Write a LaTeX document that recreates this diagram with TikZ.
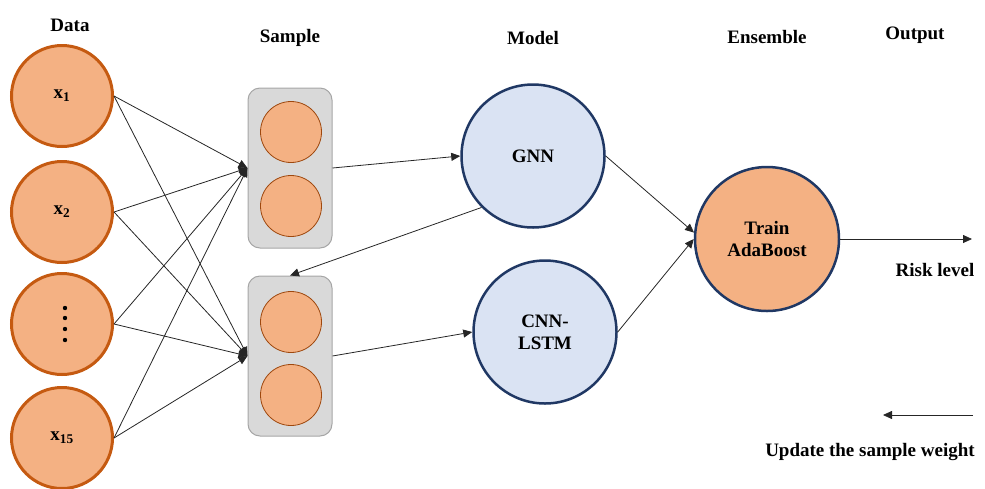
\documentclass[tikz,border=0pt]{standalone}
\usepackage{fontspec}
\setmainfont{Liberation Serif}
\usetikzlibrary{arrows.meta}
\definecolor{orfill}{HTML}{F4B183}
\definecolor{ordraw}{HTML}{C55A11}
\definecolor{blfill}{HTML}{DAE3F3}
\definecolor{bldraw}{HTML}{203864}
\definecolor{boxfill}{HTML}{D9D9D9}
\definecolor{boxdraw}{HTML}{A6A6A6}
\begin{document}
\begin{tikzpicture}[x=1pt,y=-1pt,
  every node/.style={font=\fontsize{19}{22}\selectfont\bfseries},
  datanode/.style={circle,draw=ordraw,fill=orfill,line width=3pt,minimum size=101pt,inner sep=0pt},
  samplebox/.style={rectangle,rounded corners=12pt,draw=boxdraw,fill=boxfill,line width=1pt,minimum width=84pt,minimum height=160pt},
  innercirc/.style={circle,draw=ordraw!80!black,fill=orfill,line width=0.8pt,minimum size=61pt,inner sep=0pt},
  modelnode/.style={circle,draw=bldraw,fill=blfill,line width=2.5pt,minimum size=143pt,inner sep=0pt,align=center},
  adanode/.style={circle,draw=bldraw,fill=orfill,line width=2.5pt,minimum size=144pt,inner sep=0pt,align=center},
  head/.style={inner sep=0pt},
  conn/.style={draw=black!85,line width=0.8pt},
  arr/.style={conn,-{Triangle[length=9pt,width=8pt]}},
]
\useasboundingbox (0,0) rectangle (985,488);

% headers
\node[head] (hdata) at (70,25) {Data};
\node[head] (hsample) at (290,38) {Sample};
\node[head] (hmodel) at (533,38) {Model};
\node[head] (hens) at (767,37) {Ensemble};
\node[head] (hout) at (915,35) {Output};

% data nodes
\node[datanode] (x1) at (62,96) {x\textsubscript{1}};
\node[datanode] (x2) at (62,212) {x\textsubscript{2}};
\node[datanode] (xd) at (62,324) {};
\node[datanode] (x15) at (62,438) {x\textsubscript{15}};
\foreach \yy/\nm in {308/d1,318/d2,329/d3,340/d4}
  \fill[black] (65,\yy) circle (2.2pt);

% sample boxes
\node[samplebox] (s1) at (290,168) {};
\node[samplebox] (s2) at (290,356) {};
\node[innercirc] (s1a) at (291,132) {};
\node[innercirc] (s1b) at (291,206) {};
\node[innercirc] (s2a) at (291,322) {};
\node[innercirc] (s2b) at (291,395) {};

% models
\node[modelnode] (gnn) at (533,156) {GNN};
\node[modelnode] (cnn) at (545,332) {CNN-\\LSTM};

% ensemble
\node[adanode] (ada) at (767,239) {Train\\AdaBoost};

% data -> samples
\foreach \src in {x1,x2,xd,x15}{
  \draw[arr] (\src.east) -- (s1.west);
  \draw[arr] (\src.east) -- (s2.west);
}

% samples -> models
\draw[arr] (s1.east) -- (gnn.west);
\draw[arr] (s2.east) -- (cnn.west);
\draw[arr] (gnn.225) -- (s2.north);

% models -> ensemble
\draw[arr] (gnn.east) -- (ada.175);
\draw[arr] (cnn.east) -- (ada.west);

% output
\coordinate (outend) at (972,239);
\draw[arr] (ada.east) -- (outend);
\node[head] (risk) at (935,270) {Risk level};

% update legend
\coordinate (updA) at (973,415);
\coordinate (updB) at (883,415);
\draw[arr] (updA) -- (updB);
\node[head] (upd) at (870,452) {Update the sample weight};
\end{tikzpicture}
\end{document}
